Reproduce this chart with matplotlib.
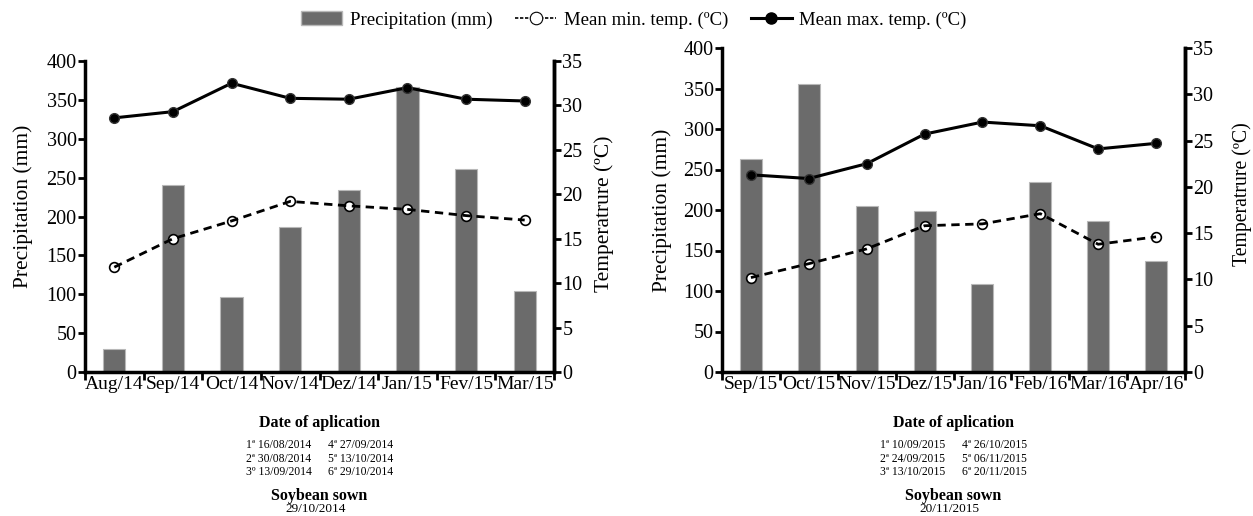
import numpy as np
import matplotlib
matplotlib.use('Agg')
from matplotlib import pyplot as plt
from matplotlib.lines import Line2D
from matplotlib.patches import Patch

plt.rcParams['font.family'] = ['Liberation Serif', 'DejaVu Serif']

# 2014/15 season
months_1 = ['Aug/14', 'Sep/14', 'Oct/14', 'Nov/14', 'Dez/14', 'Jan/15', 'Fev/15', 'Mar/15']
precip_1 = [30, 241, 97, 187, 234, 367, 261, 104]
tmin_1 = [11.8, 15.0, 17.0, 19.2, 18.7, 18.3, 17.6, 17.1]
tmax_1 = [28.6, 29.3, 32.5, 30.8, 30.7, 32.0, 30.7, 30.5]
dates_1 = ['1ª 16/08/2014', '2ª 30/08/2014', '3º 13/09/2014',
           '4ª 27/09/2014', '5ª 13/10/2014', '6ª 29/10/2014']
sown_1 = '29/10/2014'

# 2015/16 season
months_2 = ['Sep/15', 'Oct/15', 'Nov/15', 'Dez/15', 'Jan/16', 'Feb/16', 'Mar/16', 'Apr/16']
precip_2 = [263, 355, 205, 199, 109, 234, 186, 137]
tmin_2 = [10.2, 11.7, 13.3, 15.8, 16.0, 17.1, 13.8, 14.6]
tmax_2 = [21.3, 20.9, 22.5, 25.7, 27.0, 26.6, 24.1, 24.7]
dates_2 = ['1ª 10/09/2015', '2ª 24/09/2015', '3ª 13/10/2015',
           '4ª 26/10/2015', '5ª 06/11/2015', '6ª 20/11/2015']
sown_2 = '20/11/2015'

BAR = '#6b6b6b'
W, H = 1253, 516


def draw_panel(fig, px, months, precip, tmin, tmax, dates, sown, lab_l, lab_r):
    # px = (left, top, right, bottom) in pixels
    # lab_l / lab_r = (x pixel, y axes-fraction, fontsize) for the two y labels
    l, t, r, b = px
    ax = fig.add_axes([l / W, 1 - b / H, (r - l) / W, (b - t) / H])
    x = np.arange(len(months))
    ax.bar(x, precip, width=0.38, color=BAR, edgecolor='#b8b8b8', linewidth=0.8, zorder=1)
    ax.set_xlim(-0.5, len(months) - 0.5)
    ax.set_ylim(0, 400)
    ax.set_yticks(range(0, 401, 50))
    ax.set_xticks(np.arange(-0.5, len(months), 1.0))
    ax.set_xticklabels([])
    ax.set_xticks(x, minor=True)
    ax.set_xticklabels(months, minor=True, fontsize=14)
    ax.tick_params(axis='x', which='minor', length=0, pad=3)
    ax.tick_params(axis='x', which='major', length=6, width=2)
    ax.tick_params(axis='y', length=5, width=2, labelsize=14.5, pad=1)
    ax.set_ylabel('Precipitation (mm)', fontsize=lab_l[2])
    # left label: x is the right edge of the rotated text
    ax.yaxis.set_label_coords((lab_l[0] - l) / (r - l), lab_l[1])
    ax.spines['top'].set_visible(False)
    for s in ['left', 'bottom', 'right']:
        ax.spines[s].set_linewidth(2.5)

    ax2 = ax.twinx()
    ax2.set_ylim(0, 35)
    ax2.set_yticks(range(0, 36, 5))
    ax2.tick_params(axis='y', length=5, width=2, labelsize=14.5, pad=1)
    ax2.set_ylabel('Temperatrure (ºC)', fontsize=lab_r[2])
    # right label: x is the left edge of the rotated text
    ax2.yaxis.set_label_coords((lab_r[0] - l) / (r - l), lab_r[1])
    ax2.spines['top'].set_visible(False)
    ax2.spines['right'].set_linewidth(2.5)
    ax2.plot(x, tmax, color='black', lw=2.2, marker='o', ms=7, mfc='black', mec='#333333', zorder=3)
    ax2.plot(x, tmin, color='black', lw=0, marker='o', ms=7, mfc='white', mec='black', mew=1.2, zorder=3)
    ax2.plot(x, tmin, color='black', lw=2, ls=(0, (3, 2)), zorder=4)

    # notes under the panel
    xc = (l + r) / 2
    fig.text(xc / W, 1 - 423 / H, 'Date of aplication', ha='center', va='center',
             fontsize=11.5, fontweight='bold')
    for i in range(3):
        y = 1 - (445 + 13.5 * i) / H
        fig.text((xc - 8) / W, y, dates[i], ha='right', va='center', fontsize=8.4)
        fig.text((xc + 8) / W, y, dates[i + 3], ha='left', va='center', fontsize=8.4)
    fig.text(xc / W, 1 - 496 / H, 'Soybean sown', ha='center', va='center',
             fontsize=11.5, fontweight='bold')
    fig.text((xc - 4) / W, 1 - 509 / H, sown, ha='center', va='center', fontsize=9.5)
    return ax


fig = plt.figure(figsize=(W / 100, H / 100), dpi=100)
draw_panel(fig, (85, 61, 554, 372), months_1, precip_1, tmin_1, tmax_1,
           dates_1, sown_1, (33, 0.534, 15.5), (594, 0.51, 15.5))
draw_panel(fig, (722, 48, 1185, 372), months_2, precip_2, tmin_2, tmax_2,
           dates_2, sown_2, (672, 0.5, 15.5), (1232, 0.55, 14.2))

handles = [
    Patch(facecolor=BAR, edgecolor='#b8b8b8'),
    Line2D([], [], color='black', lw=1.2, ls=(0, (2, 1)), marker='o', ms=9,
           mfc='white', mec='black', mew=0.8),
    Line2D([], [], color='black', lw=2.2, marker='o', ms=8, mfc='black'),
]
labels = ['Precipitation (mm)', 'Mean min. temp. (ºC)', 'Mean max. temp. (ºC)']
fig.legend(handles, labels, loc='center', bbox_to_anchor=(634 / W, 1 - 20 / H), ncol=3,
           frameon=False, fontsize=13.5, handlelength=2.2, columnspacing=1.2,
           handletextpad=0.4)

fig.savefig('out.png', dpi=100)
